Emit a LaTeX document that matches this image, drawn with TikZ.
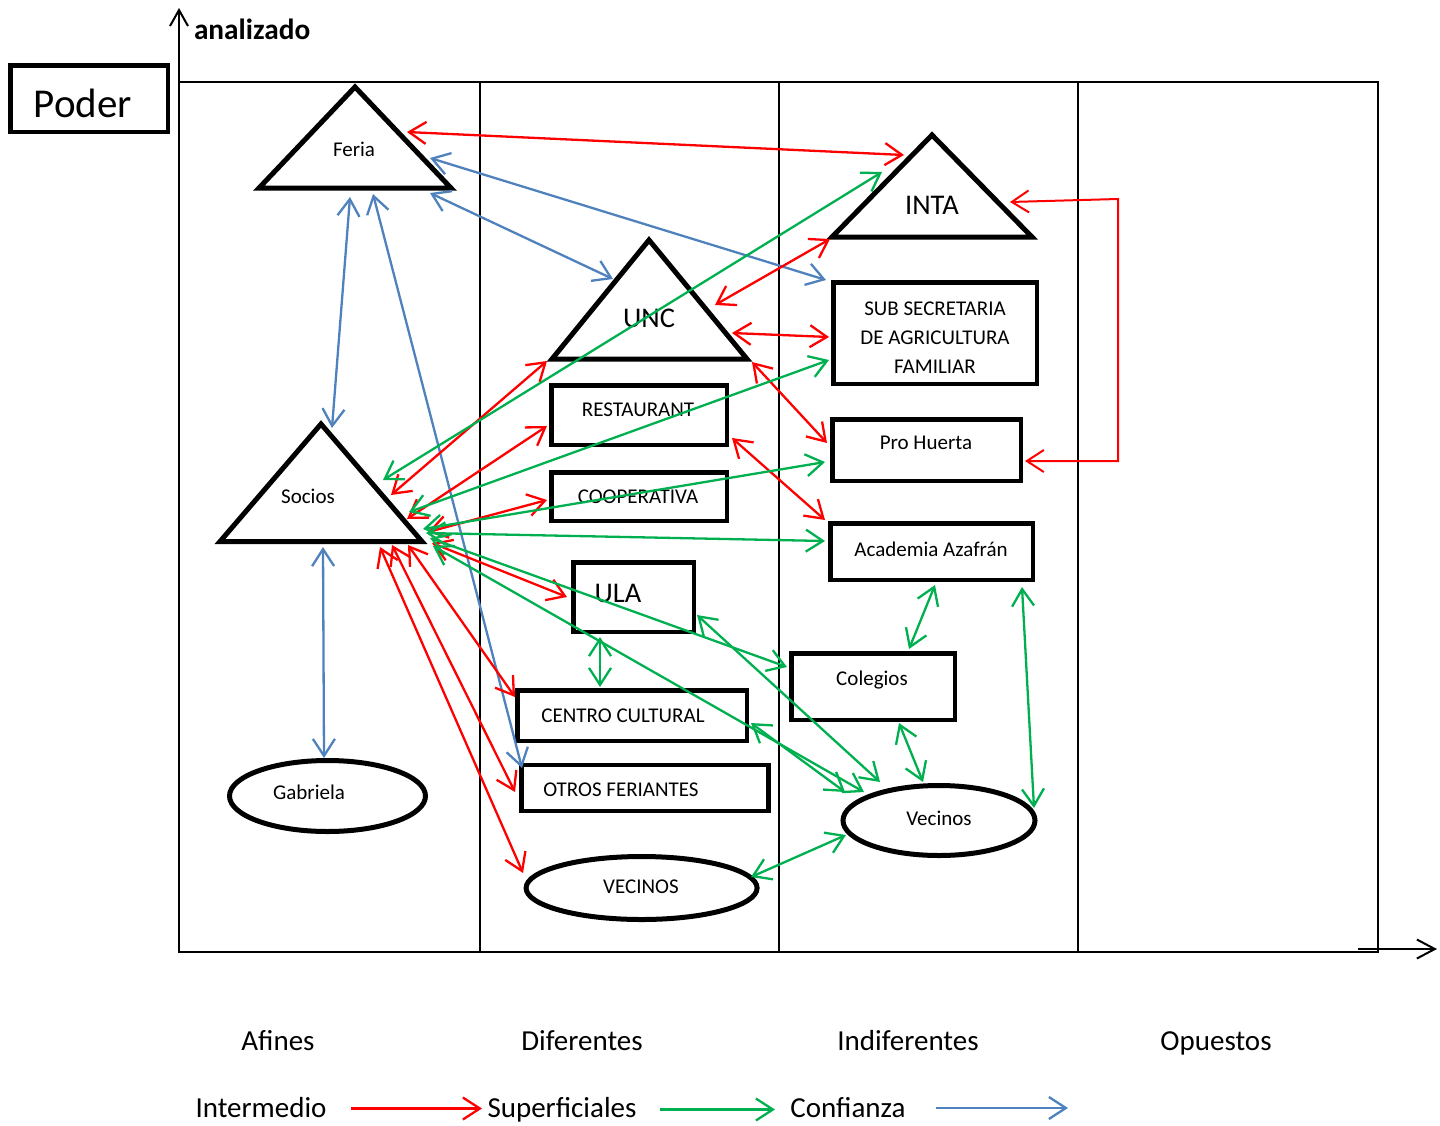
\documentclass[tikz,border=0pt]{standalone}
\usepackage{fontspec}
\setmainfont{Carlito}
\usetikzlibrary{arrows.meta,calc,shapes.geometric}
\definecolor{relred}{RGB}{255,0,0}
\definecolor{relgreen}{RGB}{0,176,80}
\definecolor{relblue}{RGB}{79,129,189}
\begin{document}
\begin{tikzpicture}[x=1pt,y=-1pt,
  every node/.style={inner sep=0pt,outer sep=0pt},
  lbl/.style={font=\fontsize{21}{29}\selectfont},
  bigl/.style={font=\fontsize{28.5}{34}\selectfont},
  coll/.style={font=\fontsize{29}{34}\selectfont,text height=19pt,text depth=6pt},
  tri/.style={draw,line width=5pt,line join=miter},
  box/.style={draw,line width=4.5pt,rectangle},
  oval/.style={draw,line width=5pt,ellipse},
  frame/.style={line width=2pt},
  link/.style={line width=2.3pt,<->,>={Straight Barb[length=17pt,width=22pt]}},
  inter/.style={link,draw=relred},
  superf/.style={link,draw=relgreen},
  conf/.style={link,draw=relblue},
  legarrow/.style={line width=2.3pt,->,>={Straight Barb[length=17pt,width=22pt]}},
]
\useasboundingbox (0,0) rectangle (1440,1125);

% axes and frame
\coordinate (axO) at (179,952);
\coordinate (axTop) at (179,8);
\draw[frame] (179,82) rectangle (1378,952);
\foreach \x in {480,779,1078} \draw[frame] (\x,82) -- (\x,952);
\draw[frame,->,>={Straight Barb[length=16pt,width=18pt]}] (axO) -- (axTop);
\coordinate (hx0) at (1358,949);
\coordinate (hx1) at (1437,949);
\draw[frame,->,>={Straight Barb[length=18pt,width=19pt]}] (hx0) -- (hx1);

\node[font=\fontsize{29.3}{34}\selectfont\bfseries,anchor=west] (analiz) at (194,29) {analizado};
\node[box,minimum width=157.5pt,minimum height=66.5pt] (poder) at (89,98.5) {};
\node[font=\fontsize{41}{48}\selectfont] (poderT) at (83,103.5) {Poder};

% triangles
\coordinate (feriaT) at (355,87); \coordinate (feriaL) at (259,188); \coordinate (feriaR) at (451,188);
\draw[tri] (feriaT) -- (feriaL) -- (feriaR) -- cycle;
\node[lbl] (feria) at (354,149) {Feria};
\coordinate (intaT) at (932,135); \coordinate (intaL) at (832,237); \coordinate (intaR) at (1032,237);
\draw[tri] (intaT) -- (intaL) -- (intaR) -- cycle;
\node[bigl] (inta) at (932,205) {INTA};
\coordinate (uncT) at (649,240); \coordinate (uncL) at (552,359); \coordinate (uncR) at (747,359);
\draw[tri] (uncT) -- (uncL) -- (uncR) -- cycle;
\node[bigl] (unc) at (649,318) {UNC};
\coordinate (sociosT) at (321,424); \coordinate (sociosL) at (220,541.5); \coordinate (sociosR) at (422,541.5);
\draw[tri] (sociosT) -- (sociosL) -- (sociosR) -- cycle;
\node[lbl] (socios) at (308,496) {Socios};

% boxes
\node[box,minimum width=203.5pt,minimum height=101.5pt] (sub) at (935,333) {};
\node[lbl,align=center] (subT) at (935,337.5) {SUB SECRETARIA\\DE AGRICULTURA\\FAMILIAR};
\node[box,minimum width=188.5pt,minimum height=61.5pt] (pro) at (926.5,450) {};
\node[lbl] (proT) at (926,443) {Pro Huerta};
\node[box,minimum width=202.5pt,minimum height=56.5pt] (acad) at (931.5,551.5) {};
\node[lbl] (acadT) at (931,549) {Academia Azafrán};
\node[box,minimum width=175.5pt,minimum height=59.5pt] (rest) at (639,415) {};
\node[lbl] (restT) at (638,410) {RESTAURANT};
\node[box,minimum width=175.5pt,minimum height=48.5pt] (coop) at (639,496.5) {};
\node[lbl] (coopT) at (638,497) {COOPERATIVA};
\node[box,minimum width=120.5pt,minimum height=69.5pt] (ula) at (633.5,597) {};
\node[bigl] (ulaT) at (618,593) {ULA};
\node[box,minimum width=229.5pt,minimum height=50.5pt] (centro) at (632,715.5) {};
\node[lbl] (centroT) at (623,716) {CENTRO CULTURAL};
\node[box,minimum width=247pt,minimum height=46pt] (otros) at (645,788) {};
\node[lbl] (otrosT) at (621,790) {OTROS FERIANTES};
\node[box,minimum width=163.5pt,minimum height=66.5pt] (cole) at (873,686.5) {};
\node[lbl] (coleT) at (872,680) {Colegios};

% ellipses
\node[oval,minimum width=196pt,minimum height=71pt] (gab) at (327.5,796) {};
\node[lbl] (gabT) at (309,792) {Gabriela};
\node[oval,minimum width=231pt,minimum height=63pt] (vecA) at (641.6,888) {};
\node[lbl] (vecAT) at (641,887) {VECINOS};
\node[oval,minimum width=192pt,minimum height=70pt] (vecB) at (939,820.5) {};
\node[lbl] (vecBT) at (939,818.5) {Vecinos};

% blue: Confianza
\draw[conf] ($(feria)+(76,44)$) -- ($(unc)+(-36,-39)$);
\draw[conf] ($(feria)+(76,9)$) -- ($(sub)+(-109,-53)$);
\draw[conf] ($(feria)+(-4,48)$) -- ($(socios)+(24,-68)$);
\draw[conf] ($(feria)+(19,45)$) -- ($(otros)+(-123,-20)$);
\draw[conf] ($(socios)+(15,51)$) -- ($(gab)+(-3.5,-38)$);

% red: Intermedio
\draw[inter] ($(feria)+(53,-17)$) -- ($(inta)+(-28,-50)$);
\coordinate (elbow) at (1118,199);
\draw[inter,line width=2pt] ($(inta)+(78,-3)$) -- (elbow) |- ($(pro)+(98.5,11)$);
\draw[inter] ($(inta)+(-102,34)$) -- ($(unc)+(66,-13)$);
\draw[inter] ($(unc)+(83,15)$) -- ($(sub)+(-106,4)$);
\draw[inter] ($(unc)+(103,44)$) -- ($(pro)+(-99.5,-7)$);
\draw[inter] ($(rest)+(93,23)$) -- ($(acad)+(-106.5,-31.5)$);
\draw[inter] ($(socios)+(83,-1)$) -- ($(unc)+(-102,43)$);
\draw[inter] ($(socios)+(99,23)$) -- ($(rest)+(-92,11)$);
\draw[inter] ($(socios)+(120,36)$) -- ($(coop)+(-92,3.5)$);
\draw[inter] ($(socios)+(124,47)$) -- ($(ula)+(-66.5,0)$);
\draw[inter] ($(socios)+(100,49)$) -- ($(centro)+(-117,-18.5)$);
\draw[inter] ($(socios)+(84,49)$) -- ($(otros)+(-130,4)$);
\draw[inter] ($(socios)+(72,51)$) -- ($(vecA)+(-118.6,-15)$);

% green: Superficiales
\draw[superf] ($(socios)+(75,-16)$) -- ($(inta)+(-50,-33)$);
\draw[superf] ($(socios)+(101,16)$) -- ($(sub)+(-106,27)$);
\draw[superf] ($(socios)+(115,33)$) -- ($(pro)+(-101.5,12)$);
\draw[superf] ($(socios)+(118,37)$) -- ($(acad)+(-106.5,-10.5)$);
\draw[superf] ($(socios)+(122,42)$) -- ($(cole)+(-86,-19.5)$);
\draw[superf] ($(socios)+(125,50)$) -- ($(vecB)+(-75,-28.5)$);
\draw[superf] ($(ula)+(-33.5,40)$) -- ($(centro)+(-32,-28.5)$);
\draw[superf] ($(ula)+(63.5,18)$) -- ($(vecB)+(-59,-38.5)$);
\draw[superf] ($(centro)+(119,7.5)$) -- ($(vecB)+(-94,-28.5)$);
\draw[superf] ($(acad)+(3.5,33.5)$) -- ($(cole)+(36,-37.5)$);
\draw[superf] ($(acad)+(90.5,35.5)$) -- ($(vecB)+(95,-12.5)$);
\draw[superf] ($(cole)+(26,36.5)$) -- ($(vecB)+(-16,-38.5)$);
\draw[superf] ($(vecA)+(109.4,-11)$) -- ($(vecB)+(-93,14.5)$);

% column labels
\node[coll] (afines) at (278,1044) {Afines};
\node[coll] (diferentes) at (582,1044) {Diferentes};
\node[coll] (indiferentes) at (908,1044) {Indiferentes};
\node[coll] (opuestos) at (1216,1044) {Opuestos};

% legend
\node[coll] (lgInter) at (261,1111) {Intermedio};
\node[coll] (lgSup) at (562,1111) {Superficiales};
\node[coll] (lgConf) at (848,1111) {Confianza};
\coordinate (lgR0) at (351,1108.5); \coordinate (lgR1) at (482,1108.5);
\coordinate (lgG0) at (660,1109.5); \coordinate (lgG1) at (775,1109.5);
\coordinate (lgB0) at (936,1108); \coordinate (lgB1) at (1068,1108);
\draw[legarrow,draw=relred] (lgR0) -- (lgR1);
\draw[legarrow,draw=relgreen] (lgG0) -- (lgG1);
\draw[legarrow,draw=relblue] (lgB0) -- (lgB1);
\end{tikzpicture}
\end{document}
